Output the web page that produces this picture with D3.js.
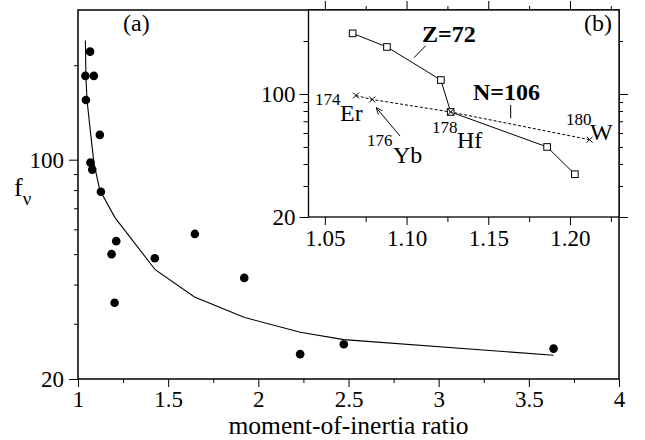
<!DOCTYPE html>
<html>
<head>
<meta charset="utf-8">
<script src="https://cdn.jsdelivr.net/npm/d3@7"></script>
<style>
  html, body { margin: 0; padding: 0; background: #fff; }
  svg, svg text { font-family: 'Liberation Serif', Tinos, 'Times New Roman', Times, 'DejaVu Serif', serif; }
</style>
</head>
<body>
<svg id="chart" width="645" height="440"></svg>
<script>
// ---------- data ----------
// main panel (a): measured points
const mainRatio = [1.041, 1.044, 1.067, 1.069, 1.079, 1.088, 1.121, 1.127, 1.186, 1.203, 1.212, 1.426, 1.648, 1.922, 2.232, 2.474, 3.637];
const mainF     = [185,   155,   221,   98,    93,    185,   120,   79,    50,    35,    55,    48.5,  58,    42,    24,    25.8,  25];
// main panel (a): model curve
const curveRatio = [1.041, 1.044, 1.050, 1.068, 1.089, 1.121, 1.204, 1.428, 1.646, 1.924, 2.233, 2.474, 3.637];
const curveF     = [240,   183,   155,   124,   97,    80,    65.5,  44.6,  36.5,  31.4,  28.2,  26.7,  23.8];
// inset (b): Z=72 isotopes (squares, solid line)
const zRatio = [1.067, 1.088, 1.121, 1.127, 1.186, 1.203];
const zF     = [221,   185,   120,   79,    50,    35];
// inset (b): N=106 isotones (crosses, dashed line)
const nNames  = ["Er", "Yb", "Hf", "W"];
const nMass   = ["174", "176", "178", "180"];
const nRatio  = [1.069, 1.079, 1.127, 1.212];
const nF      = [98,    93,    79,    55];
// ticks
const mainXMajor = [1, 1.5, 2, 2.5, 3, 3.5, 4];
const mainXMinor = [1.25, 1.75, 2.25, 2.75, 3.25, 3.75];
const yMajor = [20, 100];
const yMinor = [30, 40, 50, 60, 70, 80, 90, 200];
const insetXMajor = [1.05, 1.10, 1.15, 1.20];
const insetXMinor = [1.075, 1.125, 1.175, 1.225];

// ---------- layout ----------
const SERIF = "'Liberation Serif', Tinos, 'Times New Roman', Times, 'DejaVu Serif', serif";
const svg = d3.select("#chart").style("font-family", SERIF);
const M = {left: 78, right: 619, top: 10, bottom: 379};
const I = {left: 308.5, right: 619, top: 10, bottom: 217};
const FONT = 23;

const x = d3.scaleLinear().domain([1, 4]).range([M.left, M.right]);
const y = d3.scaleLog().domain([20, 300]).range([M.bottom, M.top]);
const xi = d3.scaleLinear().domain([1.04, 1.23]).range([I.left, I.right]);
const yi = d3.scaleLog().domain([20, 300]).range([I.bottom, I.top]);

function styleAxis(g, size) {
  g.attr("font-family", null).attr("font-size", null);
  g.select(".domain").remove();
  g.selectAll(".tick line").attr("stroke", "#000").attr("stroke-width", 1);
  g.selectAll(".tick text").attr("fill", "#000").style("font-size", size + "px")
    .style("font-family", SERIF);
}

// ---------- main panel axes ----------
svg.append("g").attr("transform", `translate(0,${M.bottom})`)
  .call(d3.axisBottom(x).tickValues(mainXMajor).tickSize(8).tickPadding(4).tickFormat(d3.format("")))
  .call(g => styleAxis(g, FONT));
svg.append("g").attr("transform", `translate(0,${M.bottom})`)
  .call(d3.axisBottom(x).tickValues(mainXMinor).tickSize(4).tickFormat(""))
  .call(g => styleAxis(g, FONT));
svg.append("g").attr("transform", `translate(${M.left},0)`)
  .call(d3.axisLeft(y).tickValues(yMajor).tickSize(9).tickPadding(5).tickFormat(d3.format("")))
  .call(g => styleAxis(g, FONT));
svg.append("g").attr("transform", `translate(${M.left},0)`)
  .call(d3.axisLeft(y).tickValues(yMinor).tickSize(4).tickFormat(""))
  .call(g => styleAxis(g, FONT));

// main frame
svg.append("rect").attr("x", M.left).attr("y", M.top)
  .attr("width", M.right - M.left).attr("height", M.bottom - M.top)
  .attr("fill", "none").attr("stroke", "#000").attr("stroke-width", 1.5);

// model curve
const curvePts = curveRatio.map((r, i) => [r, curveF[i]]);
svg.append("path").datum(curvePts)
  .attr("d", d3.line().x(d => x(d[0])).y(d => y(d[1])))
  .attr("fill", "none").attr("stroke", "#000").attr("stroke-width", 1.1);

// data dots
svg.append("g").selectAll("circle").data(mainRatio.map((r, i) => [r, mainF[i]])).join("circle")
  .attr("cx", d => x(d[0])).attr("cy", d => y(d[1])).attr("r", 4.3).attr("fill", "#000");

// labels main
svg.append("text").attr("x", x(2.5)).attr("y", 434).attr("text-anchor", "middle")
  .style("font-size", "25.5px").text("moment-of-inertia ratio");
const fl = svg.append("text").attr("x", 14).attr("y", 196).style("font-size", "26px");
fl.append("tspan").text("f");
fl.append("tspan").attr("dy", 9).style("font-size", "19px").text("\u03BD");
svg.append("text").attr("x", 123).attr("y", 31).style("font-size", "24px").text("(a)");

// ---------- inset ----------
svg.append("rect").attr("x", I.left).attr("y", I.top)
  .attr("width", I.right - I.left).attr("height", I.bottom - I.top).attr("fill", "#fff");

svg.append("g").attr("transform", `translate(0,${I.bottom})`)
  .call(d3.axisBottom(xi).tickValues(insetXMajor).tickSize(8).tickPadding(5).tickFormat(d3.format(".2f")))
  .call(g => styleAxis(g, FONT));
svg.append("g").attr("transform", `translate(0,${I.bottom})`)
  .call(d3.axisBottom(xi).tickValues(insetXMinor).tickSize(5).tickFormat(""))
  .call(g => styleAxis(g, FONT));
svg.append("g").attr("transform", `translate(0,${I.top})`)
  .call(d3.axisTop(xi).tickValues(insetXMajor).tickSize(9).tickFormat(""))
  .call(g => styleAxis(g, FONT));
svg.append("g").attr("transform", `translate(0,${I.top})`)
  .call(d3.axisTop(xi).tickValues(insetXMinor).tickSize(4).tickFormat(""))
  .call(g => styleAxis(g, FONT));
svg.append("g").attr("transform", `translate(${I.left},0)`)
  .call(d3.axisLeft(yi).tickValues(yMajor).tickSize(9).tickPadding(4).tickFormat(d3.format("")))
  .call(g => styleAxis(g, FONT));
svg.append("g").attr("transform", `translate(${I.left},0)`)
  .call(d3.axisLeft(yi).tickValues(yMinor).tickSize(5).tickFormat(""))
  .call(g => styleAxis(g, FONT));
svg.append("g").attr("transform", `translate(${I.right},0)`)
  .call(d3.axisRight(yi).tickValues(yMajor).tickSize(9).tickFormat(""))
  .call(g => styleAxis(g, FONT));
svg.append("g").attr("transform", `translate(${I.right},0)`)
  .call(d3.axisRight(yi).tickValues(yMinor).tickSize(4).tickFormat(""))
  .call(g => styleAxis(g, FONT));

svg.append("rect").attr("x", I.left).attr("y", I.top)
  .attr("width", I.right - I.left).attr("height", I.bottom - I.top)
  .attr("fill", "none").attr("stroke", "#000").attr("stroke-width", 1.3);

// Z=72 line + squares
const zPts = zRatio.map((r, i) => [r, zF[i]]);
svg.append("path").datum(zPts)
  .attr("d", d3.line().x(d => xi(d[0])).y(d => yi(d[1])))
  .attr("fill", "none").attr("stroke", "#000").attr("stroke-width", 1);
svg.append("g").selectAll("rect").data(zPts).join("rect")
  .attr("x", d => xi(d[0]) - 3.3).attr("y", d => yi(d[1]) - 3.3)
  .attr("width", 6.6).attr("height", 6.6).attr("fill", "#fff").attr("stroke", "#000").attr("stroke-width", 1);

// N=106 dashed line + crosses
const nPts = nRatio.map((r, i) => [r, nF[i]]);
svg.append("path").datum(nPts)
  .attr("d", d3.line().x(d => xi(d[0])).y(d => yi(d[1])))
  .attr("fill", "none").attr("stroke", "#000").attr("stroke-width", 1).attr("stroke-dasharray", "3,2");
svg.append("g").selectAll("path.cross").data(nPts).join("path").attr("class", "cross")
  .attr("d", d => { const cx = xi(d[0]), cy = yi(d[1]), s = 3;
    return `M${cx - s},${cy - s}L${cx + s},${cy + s}M${cx - s},${cy + s}L${cx + s},${cy - s}`; })
  .attr("stroke", "#000").attr("stroke-width", 1);

// isotope labels
const labPos = [
  {sx: 315, sy: 105, ex: 340, ey: 120.5},
  {sx: 367, sy: 146, ex: 393, ey: 163},
  {sx: 432, sy: 133, ex: 457, ey: 148},
  {sx: 566, sy: 125, ex: 590, ey: 140}
];
nNames.forEach((n, i) => {
  const p = labPos[i];
  svg.append("text").attr("x", p.sx).attr("y", p.sy).style("font-size", "17px").text(nMass[i]);
  svg.append("text").attr("x", p.ex).attr("y", p.ey).style("font-size", "24px").text(n);
});

// arrow from 176Yb label to its point
svg.append("defs").append("marker").attr("id", "arr")
  .attr("viewBox", "0 0 10 10").attr("refX", 9).attr("refY", 5)
  .attr("markerWidth", 7).attr("markerHeight", 7).attr("orient", "auto")
  .append("path").attr("d", "M0,1L10,5L0,9").attr("fill", "none").attr("stroke", "#000").attr("stroke-width", 1.2);
svg.append("line").attr("x1", 400).attr("y1", 136).attr("x2", 376.5).attr("y2", 108)
  .attr("stroke", "#000").attr("stroke-width", 1).attr("marker-end", "url(#arr)");

// Z=72 and N=106 labels with leaders
svg.append("text").attr("x", 422).attr("y", 41.5).style("font-size", "24px").style("font-weight", "bold").text("Z=72");
svg.append("line").attr("x1", 425.7).attr("y1", 45.7).attr("x2", 414).attr("y2", 57.7).attr("stroke", "#000").attr("stroke-width", 1);
svg.append("text").attr("x", 473).attr("y", 100).style("font-size", "24px").style("font-weight", "bold").text("N=106");
svg.append("line").attr("x1", 510.7).attr("y1", 105).attr("x2", 510.7).attr("y2", 118.3).attr("stroke", "#000").attr("stroke-width", 1);

svg.append("text").attr("x", 584).attr("y", 31).style("font-size", "24px").text("(b)");
</script>
</body>
</html>
